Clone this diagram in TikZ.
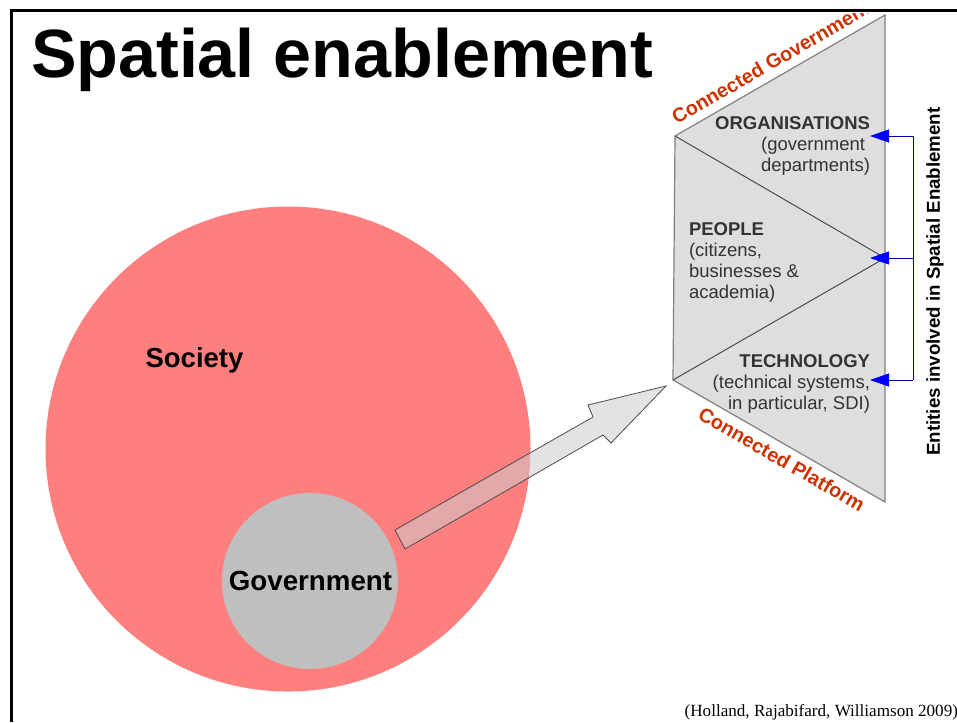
\documentclass[tikz,border=0pt]{standalone}
\usepackage{fontspec}
\setmainfont{Liberation Sans}
\newfontfamily\footfont{Liberation Serif}
\usetikzlibrary{arrows.meta}
\definecolor{societyred}{HTML}{FF7F7F}
\definecolor{govgray}{HTML}{BFBFBF}
\definecolor{trigray}{HTML}{DEDEDE}
\definecolor{linkred}{HTML}{CC3300}
\definecolor{bodygray}{HTML}{333333}
\tikzset{x=1pt,y=-1pt,
    every node/.style={inner sep=0pt,outer sep=0pt},
    blob/.style={circle,minimum size=#1},
    entity/.style={align=right,font=\fontsize{18.5}{21}\selectfont,text=bodygray},
    linklabel/.style={font=\fontsize{19.8}{23}\selectfont\bfseries,text=linkred},
    bracket/.style={draw=blue!60!black,line width=0.8pt,-{Triangle[length=19pt,width=13pt,color=blue]}},
    }

\begin{document}
\begin{tikzpicture}
\useasboundingbox (0,0) rectangle (957,722);
% frame
\draw[line width=3pt] (957,10.5) -- (11.5,10.5) -- (11.5,722);
\node[anchor=base west,font=\fontsize{68.3}{70}\selectfont\bfseries] (title) at (31,78) {Spatial enablement};
% circles
\node[blob=485pt,fill=societyred] (society) at (288,449) {};
\node[blob=176pt,fill=govgray] (government) at (310,581) {};
\node[font=\fontsize{27.5}{30}\selectfont\bfseries,anchor=center] (societylabel) at (194.5,360) {Society};
\node[font=\fontsize{27.7}{30}\selectfont\bfseries,anchor=center] (govlabel) at (310.5,581) {Government};
% triangles
\coordinate (top) at (885,15);
\coordinate (bottom) at (885,502);
\coordinate (upper) at (675,136);
\coordinate (lower) at (673,380);
\coordinate (mid) at (885,258);
\draw[draw=gray,line width=1.2pt,fill=trigray] (top) -- (upper) -- (lower) -- (bottom) -- cycle;
\draw[draw=black!70,line width=1pt] (upper) -- (mid) -- (lower);
% big arrow
\draw[draw=black!70,line width=0.8pt,fill=gray!40,fill opacity=0.55] (395,530) -- (593,417) -- (588,405) -- (666,386) -- (611,443) -- (603,435) -- (405,549) -- cycle;
% texts
\node[entity,anchor=north east] (orgs) at (870,117) {\textbf{ORGANISATIONS}\\(government\kern5pt\\departments)};
\node[entity,anchor=north west,align=left] (people) at (689,223) {\textbf{PEOPLE}\\(citizens,\\businesses \&\\academia)};
\node[entity,anchor=north east] (tech) at (870,355) {\textbf{TECHNOLOGY}\\(technical systems,\\in particular, SDI)};
\begin{scope}
\clip (660,14) rectangle (957,140);
\node[linklabel,rotate=30,anchor=south west] (connectedgov) at (677,125) {Connected Government};
\end{scope}
\node[linklabel,rotate=-30,anchor=north west] (connectedplat) at (704,406) {Connected Platform};
% bracket
\coordinate (rail) at (913,258);
\coordinate (railtop) at (913,136);
\coordinate (railbot) at (913,380);
\coordinate (orgtip) at (870,136);
\coordinate (midtip) at (870,258);
\coordinate (techtip) at (870,380);
\draw[bracket] (railtop) -- (orgtip);
\draw[bracket] (rail) -- (midtip);
\draw[bracket] (railbot) -- (techtip);
\draw[draw=blue!60!black,line width=0.8pt] (railtop) -- (railbot);
\node[rotate=90,font=\fontsize{18.7}{20}\selectfont\bfseries] (entities) at (935,281.5) {Entities involved in Spatial Enablement};
\node[anchor=base east,font=\footfont\fontsize{17.1}{18}\selectfont] (source) at (958,716) {(Holland, Rajabifard, Williamson 2009)};
\end{tikzpicture}
\end{document}
